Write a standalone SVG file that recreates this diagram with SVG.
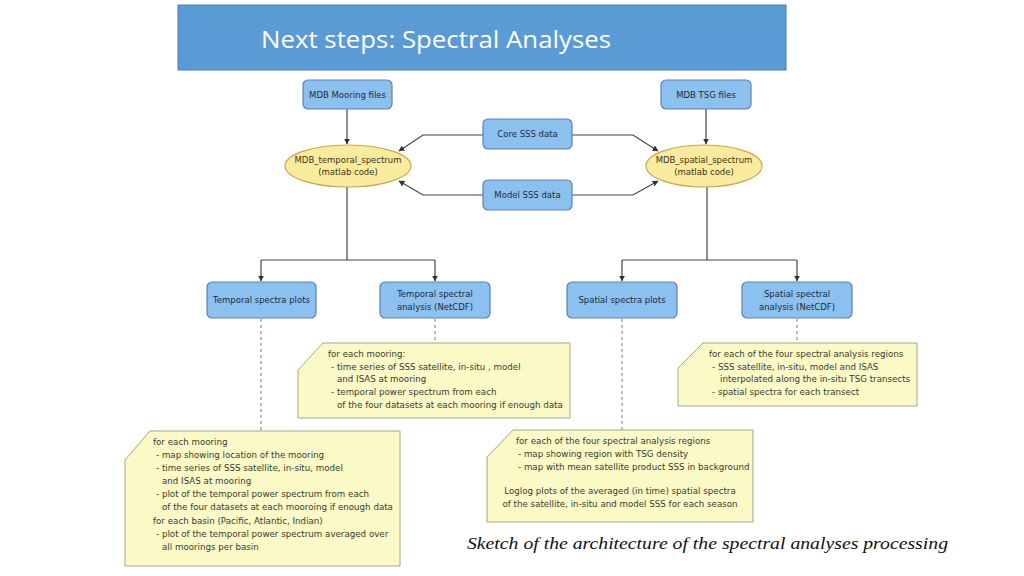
<svg xmlns="http://www.w3.org/2000/svg" width="1024" height="576" viewBox="0 0 1024 576">
<defs>
<marker id="ah" viewBox="0 0 10 10" refX="9" refY="5" markerWidth="6" markerHeight="6" orient="auto-start-reverse" markerUnits="userSpaceOnUse">
<path d="M0,0 L10,5 L0,10 z" fill="#333"/>
</marker>
<style>
.box{fill:#8cc0ef;stroke:#5b83b0;stroke-width:1.2}
.ell{fill:#fbeb9f;stroke:#c7a851;stroke-width:1.2}
.note{fill:#fbf9c6;stroke:#a5a58f;stroke-width:1}
.bt{font-family:"DejaVu Sans",sans-serif;font-size:8.5px;fill:#1e2a3a;text-anchor:middle}
.et{font-family:"DejaVu Sans",sans-serif;font-size:8.5px;fill:#3a3320;text-anchor:middle}
.nt{font-family:"DejaVu Sans",sans-serif;font-size:8.7px;fill:#3a3a30}
.ln{fill:none;stroke:#444;stroke-width:1.2}
.dl{fill:none;stroke:#888;stroke-width:1.1;stroke-dasharray:3,3}
</style>
</defs>
<rect width="1024" height="576" fill="#ffffff"/>
<g id="title">
<rect x="178" y="5" width="608" height="65" fill="#5b9bd5" stroke="#4a7fb3" stroke-width="1"/>
<text x="261" y="48" font-family="'Open Sans','Liberation Sans',sans-serif" font-size="24" fill="#ffffff" textLength="350" lengthAdjust="spacingAndGlyphs">Next steps: Spectral Analyses</text>
</g>
<g id="connectors">
<path class="ln" d="M347,109 V144" marker-end="url(#ah)"/>
<path class="ln" d="M706,109 V144" marker-end="url(#ah)"/>
<path class="ln" d="M483,135 H423 L399,151" marker-end="url(#ah)"/>
<path class="ln" d="M572,135 H633 L658,151" marker-end="url(#ah)"/>
<path class="ln" d="M483,195 H423 L399,181" marker-end="url(#ah)"/>
<path class="ln" d="M572,195 H633 L658,181" marker-end="url(#ah)"/>
<path class="ln" d="M347,187 V260"/>
<path class="ln" d="M261,260 H435"/>
<path class="ln" d="M261,260 V281" marker-end="url(#ah)"/>
<path class="ln" d="M435,260 V281" marker-end="url(#ah)"/>
<path class="ln" d="M707,187 V260"/>
<path class="ln" d="M622,260 H797"/>
<path class="ln" d="M622,260 V281" marker-end="url(#ah)"/>
<path class="ln" d="M797,260 V281" marker-end="url(#ah)"/>
<path class="dl" d="M261,319 V431"/>
<path class="dl" d="M435,319 V343"/>
<path class="dl" d="M622,319 V430"/>
<path class="dl" d="M797,319 V343"/>
</g>
<g id="mdb-mooring"><rect class="box" x="303" y="80" width="89" height="29" rx="5"/><text class="bt" x="347.5" y="98">MDB Mooring files</text></g>
<g id="mdb-tsg"><rect class="box" x="661" y="80" width="90" height="29" rx="5"/><text class="bt" x="706" y="98">MDB TSG files</text></g>
<g id="core-sss"><rect class="box" x="483" y="119" width="89" height="30" rx="5"/><text class="bt" x="527.5" y="137">Core SSS data</text></g>
<g id="model-sss"><rect class="box" x="483" y="180" width="89" height="30" rx="5"/><text class="bt" x="527.5" y="198">Model SSS data</text></g>
<g id="temporal-spectrum"><ellipse class="ell" cx="348" cy="166" rx="63" ry="21"/><text class="et" x="348" y="163">MDB_temporal_spectrum</text><text class="et" x="348" y="175">(matlab code)</text></g>
<g id="spatial-spectrum"><ellipse class="ell" cx="704" cy="166" rx="58" ry="21"/><text class="et" x="704" y="163">MDB_spatial_spectrum</text><text class="et" x="704" y="175">(matlab code)</text></g>
<g id="temporal-plots"><rect class="box" x="207" y="282" width="109" height="36" rx="5"/><text class="bt" x="261.5" y="303">Temporal spectra plots</text></g>
<g id="temporal-netcdf"><rect class="box" x="380" y="282" width="110" height="36" rx="5"/><text class="bt" x="435" y="297">Temporal spectral</text><text class="bt" x="435" y="310">analysis (NetCDF)</text></g>
<g id="spatial-plots"><rect class="box" x="567" y="282" width="110" height="36" rx="5"/><text class="bt" x="622" y="303">Spatial spectra plots</text></g>
<g id="spatial-netcdf"><rect class="box" x="742" y="282" width="110" height="36" rx="5"/><text class="bt" x="797" y="297">Spatial spectral</text><text class="bt" x="797" y="310">analysis (NetCDF)</text></g>
<g id="note-temporal-netcdf">
<path class="note" d="M323,343 H570 V418 H298 V370 Z"/>
<text class="nt" x="328" y="357">for each mooring:</text>
<text class="nt" x="331" y="370">- time series of SSS satellite, in-situ , model</text>
<text class="nt" x="337" y="382">and ISAS at mooring</text>
<text class="nt" x="331" y="395">- temporal power spectrum from each</text>
<text class="nt" x="337" y="408">of the four datasets at each mooring if enough data</text>
</g>
<g id="note-spatial-netcdf">
<path class="note" d="M703,343 H917 V406 H678 V368 Z"/>
<text class="nt" x="709" y="357">for each of the four spectral analysis regions</text>
<text class="nt" x="712" y="370">- SSS satellite, in-situ, model and ISAS</text>
<text class="nt" x="720" y="382">interpolated along the in-situ TSG transects</text>
<text class="nt" x="712" y="395">- spatial spectra for each transect</text>
</g>
<g id="note-temporal-plots">
<path class="note" d="M150,431 H400 V566 H125 V460 Z"/>
<text class="nt" x="153" y="445">for each mooring</text>
<text class="nt" x="156" y="458">- map showing location of the mooring</text>
<text class="nt" x="156" y="471">- time series of SSS satellite, in-situ, model</text>
<text class="nt" x="162" y="484">and ISAS at mooring</text>
<text class="nt" x="156" y="497">- plot of the temporal power spectrum from each</text>
<text class="nt" x="162" y="510">of the four datasets at each mooroing if enough data</text>
<text class="nt" x="153" y="524">for each basin (Pacific, Atlantic, Indian)</text>
<text class="nt" x="156" y="537">- plot of the temporal power spectrum averaged over</text>
<text class="nt" x="162" y="550">all moorings per basin</text>
</g>
<g id="note-spatial-plots">
<path class="note" d="M513,430 H753 V522 H487 V457 Z"/>
<text class="nt" x="516" y="444">for each of the four spectral analysis regions</text>
<text class="nt" x="518" y="457">- map showing region with TSG density</text>
<text class="nt" x="518" y="470">- map with mean satellite product SSS in background</text>
<text class="nt" x="620" y="494" text-anchor="middle">Loglog plots of the averaged (in time) spatial spectra</text>
<text class="nt" x="620" y="507" text-anchor="middle">of the satellite, in-situ and model SSS for each season</text>
</g>
<g id="caption">
<text x="467" y="549" font-family="'Liberation Serif',serif" font-style="italic" font-size="17" fill="#111" textLength="481" lengthAdjust="spacingAndGlyphs">Sketch of the architecture of the spectral analyses processing</text>
</g>
</svg>
